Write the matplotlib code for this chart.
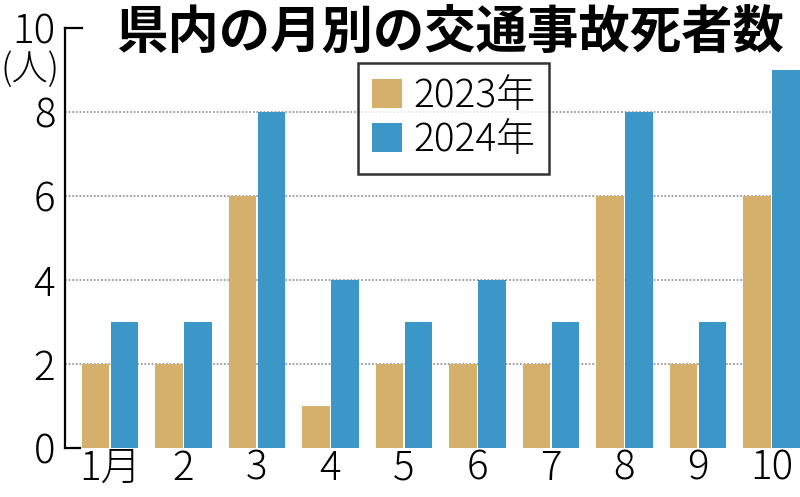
import numpy as np
import matplotlib
matplotlib.use("Agg")
import matplotlib.pyplot as plt

plt.rcParams['font.family'] = ['Noto Sans CJK JP', 'DejaVu Sans']

# データ
months = ["1月", "2", "3", "4", "5", "6", "7", "8", "9", "10"]
deaths_2023 = [2, 2, 6, 1, 2, 2, 2, 6, 2, 6]
deaths_2024 = [3, 3, 8, 4, 3, 4, 3, 8, 3, 9]
yticks = [0, 2, 4, 6, 8, 10]

c2023 = "#d4b06a"
c2024 = "#3a97c8"

fig = plt.figure(figsize=(8.0, 4.97), dpi=100)
ax = fig.add_axes([65 / 800, 49 / 497, 735 / 800, 420 / 497])

x = np.arange(len(months))
w = 0.37
ax.bar(x - 0.197, deaths_2023, w, color=c2023, label="2023年", zorder=2)
ax.bar(x + 0.197, deaths_2024, w, color=c2024, label="2024年", zorder=2)

# 点線のグリッド
for v in yticks[1:-1]:
    ax.axhline(v, color="#9a9a9a", lw=1.3, ls=(0, (1, 1)), zorder=1)

ax.set_xlim(-0.612, 9.388)
ax.set_ylim(0, 10)

for s in ["top", "right", "bottom"]:
    ax.spines[s].set_visible(False)
ax.spines["left"].set_linewidth(1.6)

# 0と10だけ短い目盛り
ax.axhline(10, xmin=0, xmax=0.023, color="k", lw=1.6, clip_on=False)
ax.axhline(0, xmin=0, xmax=0.021, color="k", lw=1.6, clip_on=False)

ax.set_yticks(yticks)
ax.set_yticklabels([str(v) for v in yticks], fontsize=29, fontweight="light")
ax.set_xticks(x)
ax.set_xticklabels(months, fontsize=29, fontweight="light")
ax.tick_params(axis="y", length=0, pad=7)
ax.tick_params(axis="x", length=0, pad=0)

fig.text(0.038, 0.86, "(人)", fontsize=26, fontweight="light", ha="center", va="center")

fig.text(0.5625, 0.935, "県内の月別の交通事故死者数", fontsize=37, fontweight="bold",
         ha="center", va="center")

leg = ax.legend(loc="upper left", bbox_to_anchor=(293 / 735, 385 / 420),
                borderaxespad=0, frameon=True, fancybox=False,
                handlelength=0.78, handleheight=0.78,
                handletextpad=0.3, borderpad=0.35, labelspacing=0.12,
                prop={"size": 28, "weight": "light"})
leg.get_frame().set_edgecolor("black")
leg.get_frame().set_linewidth(1.8)
leg.set_zorder(5)

fig.savefig("out.png", dpi=100)
